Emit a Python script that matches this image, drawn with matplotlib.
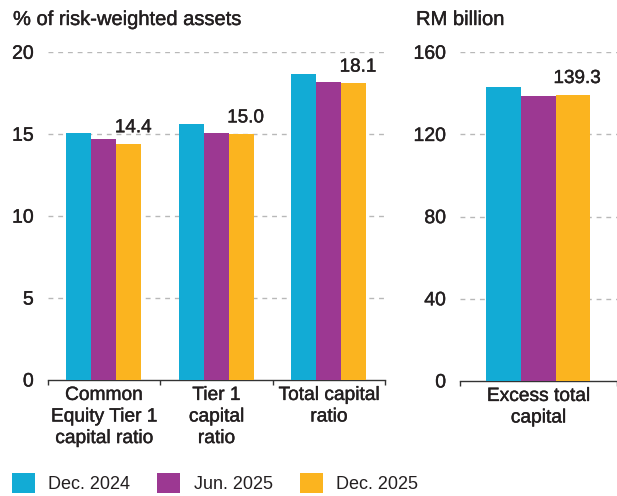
import matplotlib
matplotlib.use("Agg")
import matplotlib.pyplot as plt
from matplotlib.patches import Patch
import matplotlib.patheffects as pe
import numpy as np

plt.rcParams['font.family'] = ['Liberation Sans', 'DejaVu Sans']

# ---- data ----
ratio_categories = ["Common\nEquity Tier 1\ncapital ratio", "Tier 1\ncapital\nratio", "Total capital\nratio"]
ratio_dec2024 = [15.1, 15.6, 18.7]
ratio_jun2025 = [14.7, 15.1, 18.2]
ratio_dec2025 = [14.4, 15.0, 18.1]

excess_categories = ["Excess total\ncapital"]
excess_dec2024 = [143.1]
excess_jun2025 = [138.8]
excess_dec2025 = [139.3]

series_names = ["Dec. 2024", "Jun. 2025", "Dec. 2025"]
colors = ["#12abd5", "#9c3892", "#fbb41f"]

left_yticks = [0, 5, 10, 15, 20]
right_yticks = [0, 40, 80, 120, 160]

TXT = "#231f20"
GRID = "#b8b8b8"
bold = [pe.withStroke(linewidth=0.3, foreground=TXT)]

fig = plt.figure(figsize=(6.17, 4.96), dpi=100)
axL = fig.add_axes([47.7 / 617, 116 / 496, 337.3 / 617, 327.7 / 496])
axR = fig.add_axes([460 / 617, 115 / 496, 156.5 / 617, 328.7 / 496])

bw = 0.222


def draw(ax, cats, series, yticks, fmt):
    n = len(cats)
    x = np.arange(n) + 0.5
    for i, (vals, c) in enumerate(zip(series, colors)):
        ax.bar(x + (i - 1) * bw, vals, width=bw, color=c, zorder=3, linewidth=0)
    last = series[-1]
    for xi, v in zip(x, last):
        ax.annotate(fmt.format(v), (xi + bw, v), xytext=(3, 8.5), textcoords="offset points",
                    ha="center", va="baseline", fontsize=13.6, color=TXT, annotation_clip=False,
                    path_effects=bold)
    ax.set_xlim(0, n)
    ax.set_ylim(yticks[0], yticks[-1])
    ax.set_yticks(yticks)
    ax.set_yticklabels([str(t) for t in yticks], fontsize=14, color=TXT, path_effects=bold)
    ax.tick_params(axis="y", length=0, pad=10)
    for t in yticks[1:]:
        ax.axhline(t, color=GRID, linestyle=(0, (3.5, 3.5)), linewidth=1, zorder=1)
    ax.set_xticks(np.arange(n + 1))
    ax.set_xticklabels([""] * (n + 1))
    ax.tick_params(axis="x", which="major", direction="out", length=3.5, width=1, color="#333333")
    ax.set_xticks(x, minor=True)
    ax.set_xticklabels(cats, minor=True, fontsize=13.8, color=TXT, linespacing=1.35,
                       path_effects=bold)
    ax.tick_params(axis="x", which="minor", length=0, pad=5)
    for s in ["top", "right", "left"]:
        ax.spines[s].set_visible(False)
    ax.spines["bottom"].set_color("#333333")
    ax.spines["bottom"].set_linewidth(1)
    ax.set_facecolor("none")


draw(axL, ratio_categories, [ratio_dec2024, ratio_jun2025, ratio_dec2025], left_yticks, "{:.1f}")
draw(axR, excess_categories, [excess_dec2024, excess_jun2025, excess_dec2025], right_yticks, "{:.1f}")

fig.text(13 / 617, 1 - 25 / 496, "% of risk-weighted assets", fontsize=14.5, color=TXT,
         va="baseline", ha="left", path_effects=bold)
fig.text(416 / 617, 1 - 25 / 496, "RM billion", fontsize=14.5, color=TXT,
         va="baseline", ha="left", path_effects=bold)

handles = [Patch(facecolor=c, edgecolor="none") for c in colors]
fig.legend(handles, series_names, loc="lower left", bbox_to_anchor=(12 / 617, 3 / 496), ncol=3,
           frameon=False, fontsize=13, handlelength=1.27, handleheight=1.27, handletextpad=0.74,
           columnspacing=1.5, borderpad=0, borderaxespad=0, labelcolor=TXT)

fig.savefig("out.png", dpi=100)
